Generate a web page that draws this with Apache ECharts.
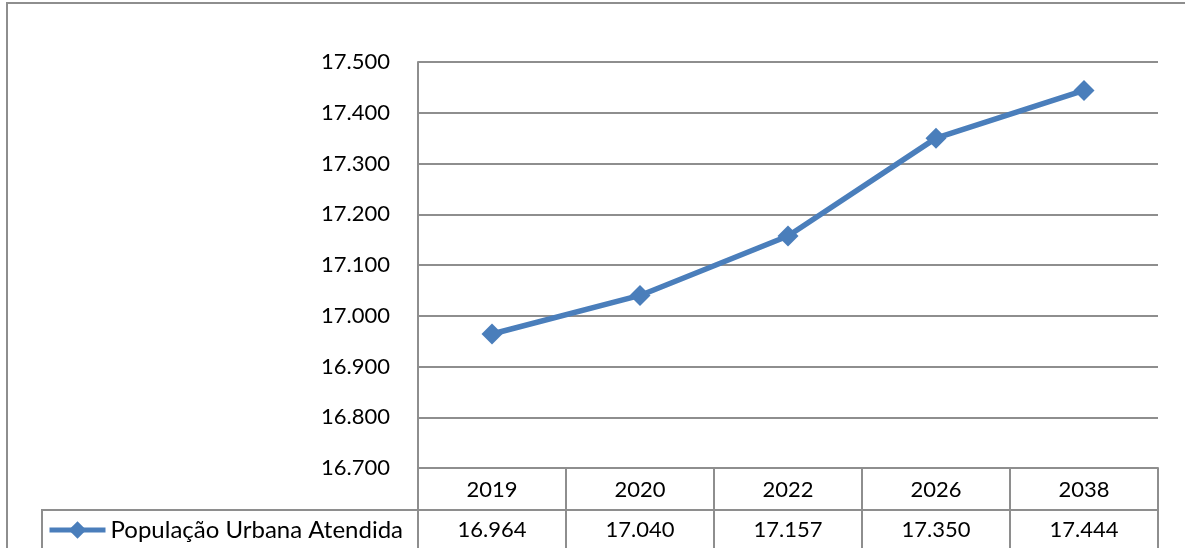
<!DOCTYPE html>
<html>
<head>
<meta charset="utf-8">
<script src="https://cdn.jsdelivr.net/npm/echarts@6/dist/echarts.min.js"></script>
<style>
  html, body { margin: 0; padding: 0; background: #ffffff; }
  #chart { width: 1185px; height: 548px; }
</style>
</head>
<body>
<div id="chart"></div>
<script>
// Urban population served (thousands), by projection year
const anos = ['2019', '2020', '2022', '2026', '2038'];
const populacao = [16964, 17040, 17157, 17350, 17444];
const serieNome = 'População Urbana Atendida';
const eixoMin = 16700;
const eixoMax = 17500;
const eixoPasso = 100;

// pt-BR style grouping: 17500 -> "17.500"
function fmt(v) {
  return String(Math.round(v)).replace(/\B(?=(\d{3})+(?!\d))/g, '.');
}

const FONT = 'Lato';
const GRID_COLOR = '#8e8e8e';
const SERIES_COLOR = '#4A7EBB';

const chart = echarts.init(document.getElementById('chart'), null, { renderer: 'canvas' });

chart.setOption({
  animation: false,
  backgroundColor: '#ffffff',
  textStyle: { fontFamily: FONT, color: '#000' },
  grid: { left: 418, top: 62, right: 27, bottom: 80, containLabel: false },
  legend: {
    left: 47,
    top: 518,
    padding: 0,
    itemWidth: 56,
    itemHeight: 22,
    itemGap: 0,
    lineStyle: { width: 5 },
    textStyle: { fontFamily: FONT, fontSize: 24, color: '#000', padding: [0, 0, 0, 0] },
    data: [serieNome]
  },
  xAxis: [
    {
      // year header row of the data table
      type: 'category',
      data: anos,
      position: 'bottom',
      boundaryGap: true,
      axisLine: { show: true, lineStyle: { color: GRID_COLOR, width: 2 } },
      axisTick: { show: true, inside: false, length: 84, interval: 0,
                  lineStyle: { color: GRID_COLOR, width: 2 } },
      axisLabel: { fontFamily: FONT, fontSize: 22, color: '#000',
                   verticalAlign: 'middle', margin: 22, interval: 0 },
      splitLine: { show: false }
    },
    {
      // value row of the data table
      type: 'category',
      data: populacao.map(fmt),
      position: 'bottom',
      offset: 42,
      boundaryGap: true,
      axisLine: { show: true, lineStyle: { color: GRID_COLOR, width: 2 } },
      axisTick: { show: false },
      axisLabel: { fontFamily: FONT, fontSize: 22, color: '#000',
                   verticalAlign: 'middle', margin: 20, interval: 0 },
      splitLine: { show: false }
    }
  ],
  yAxis: {
    type: 'value',
    min: eixoMin,
    max: eixoMax,
    interval: eixoPasso,
    axisLine: { show: true, lineStyle: { color: GRID_COLOR, width: 2 } },
    axisTick: { show: false },
    axisLabel: { fontFamily: FONT, fontSize: 22, color: '#000', margin: 28,
                 formatter: v => fmt(v) },
    splitLine: { show: true, lineStyle: { color: GRID_COLOR, width: 2 } }
  },
  series: [
    {
      name: serieNome,
      type: 'line',
      xAxisIndex: 0,
      data: populacao,
      symbol: 'diamond',
      symbolSize: 21,
      showSymbol: true,
      color: SERIES_COLOR,
      itemStyle: { color: SERIES_COLOR },
      lineStyle: { color: SERIES_COLOR, width: 5.5 }
    }
  ],
  graphic: [
    {
      // outer chart frame
      type: 'polyline',
      silent: true,
      shape: { points: [[7, 560], [7, 3], [1200, 3]] },
      style: { stroke: GRID_COLOR, lineWidth: 2, fill: null }
    },
    {
      // legend cell of the data table
      type: 'polyline',
      silent: true,
      shape: { points: [[42, 560], [42, 510], [418, 510]] },
      style: { stroke: GRID_COLOR, lineWidth: 2, fill: null }
    }
  ]
});
</script>
</body>
</html>
